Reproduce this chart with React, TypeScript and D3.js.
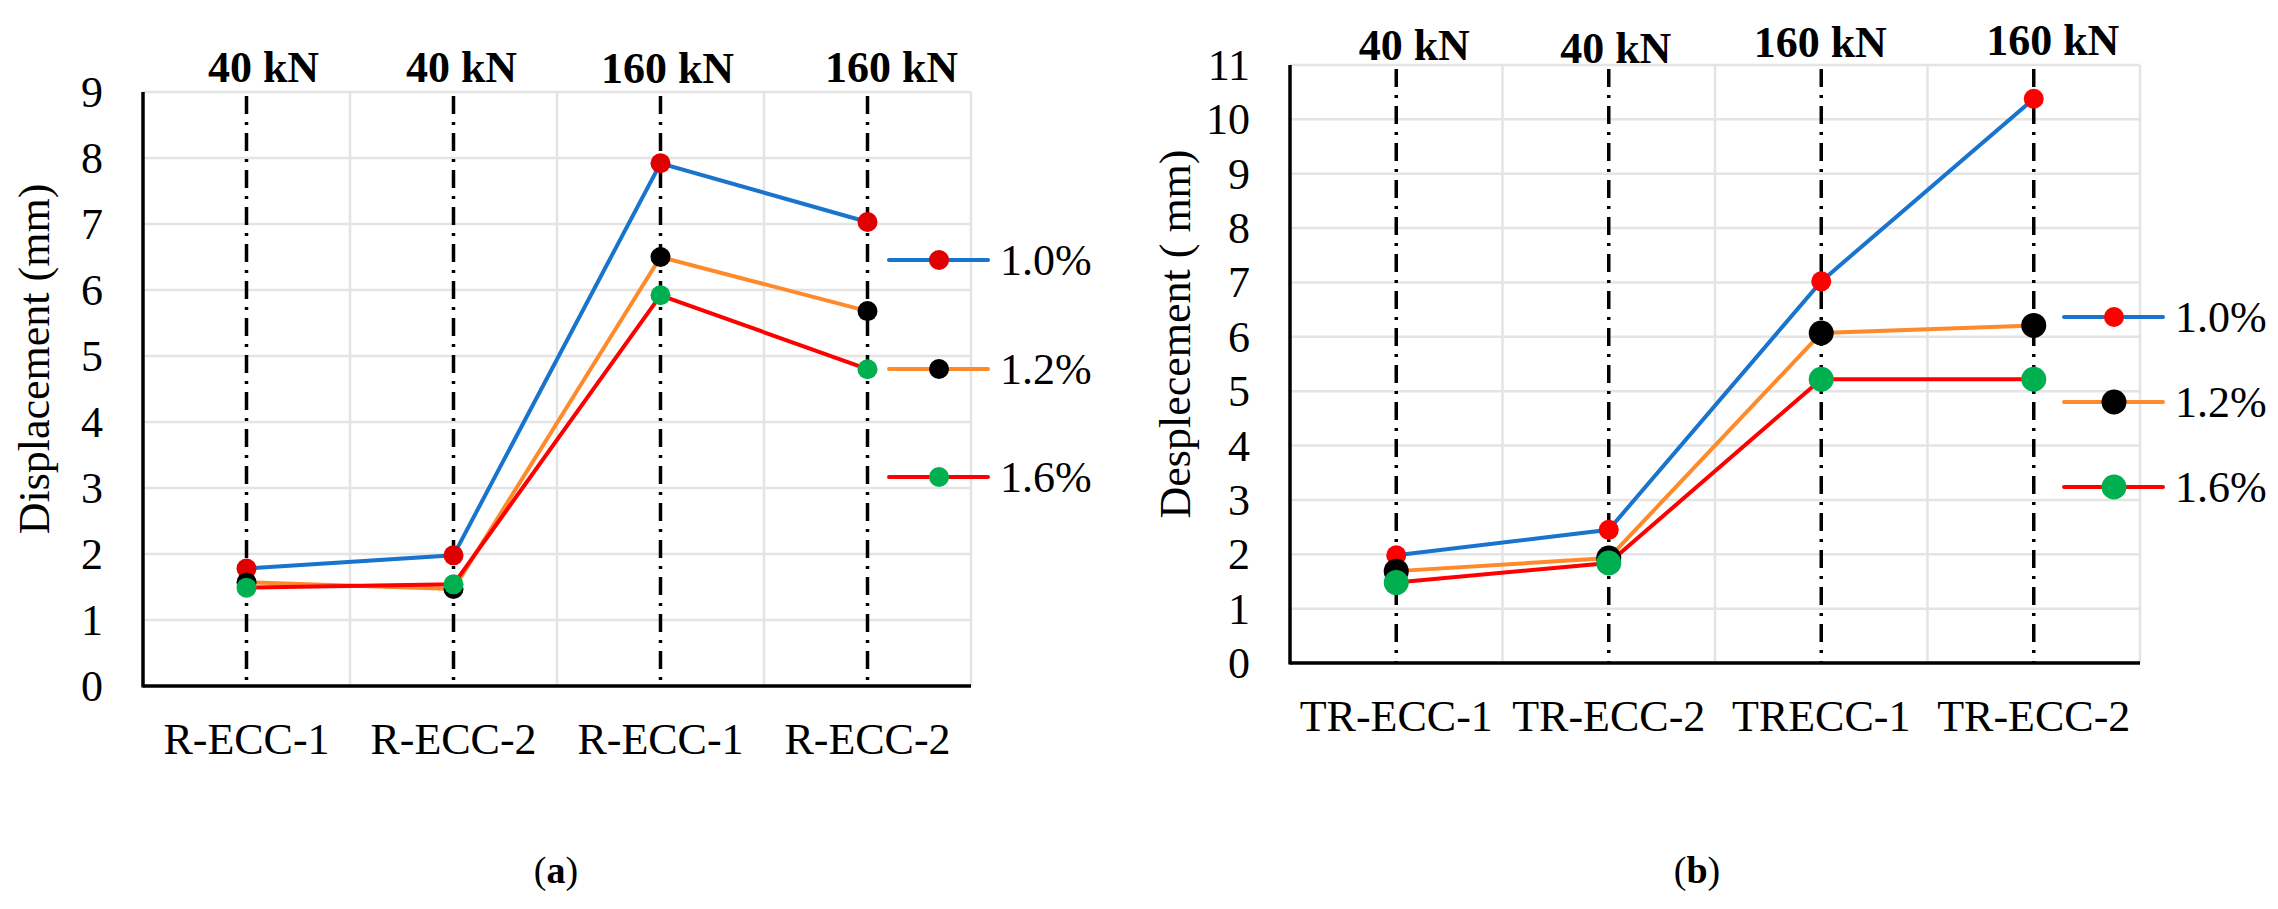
import * as d3 from 'd3'

// panel (a)
const catsA = ['R-ECC-1', 'R-ECC-2', 'R-ECC-1', 'R-ECC-2']
const loadsA = ['40 kN', '40 kN', '160 kN', '160 kN']
const a10 = [1.78, 1.98, 7.92, 7.03]
const a12 = [1.57, 1.47, 6.5, 5.68]
const a16 = [1.49, 1.54, 5.92, 4.8]
const ticksA = [0, 1, 2, 3, 4, 5, 6, 7, 8, 9]

// panel (b)
const catsB = ['TR-ECC-1', 'TR-ECC-2', 'TRECC-1', 'TR-ECC-2']
const loadsB = ['40 kN', '40 kN', '160 kN', '160 kN']
const b10 = [1.98, 2.45, 7.02, 10.38]
const b12 = [1.69, 1.93, 6.07, 6.21]
const b16 = [1.48, 1.84, 5.22, 5.22]
const ticksB = [0, 1, 2, 3, 4, 5, 6, 7, 8, 9, 10, 11]

const seriesNames = ['1.0%', '1.2%', '1.6%']

const FONT = '"Liberation Serif", "Times New Roman", serif'
const lineColors = ['#1874CD', '#FF8A2A', '#FF0000']

interface PanelProps {
  cats: string[]
  loads: string[]
  series: number[][]
  ticks: number[]
  yTitle: string
  caption: string
  left: number
  right: number
  top: number
  bottom: number
  loadY: number[]
  loadDx: number[]
  titleX: number
  legendX: number
  legendY: number[]
  markerColors: string[]
  markerR: number[]
  captionX: number
}

function Panel(p: PanelProps) {
  const x = d3.scaleBand<number>()
    .domain(p.cats.map((_, i) => i))
    .range([p.left, p.right])
    .padding(0)
  const y = d3.scaleLinear()
    .domain([0, d3.max(p.ticks) as number])
    .range([p.bottom, p.top])
  const cx = (i: number) => (x(i) as number) + x.bandwidth() / 2
  const line = d3.line<number>()
    .x((_, i) => cx(i))
    .y(d => y(d))

  return (
    <g>
      {/* grid */}
      {p.ticks.filter(t => t > 0).map(t => (
        <line key={'h' + t} x1={p.left} x2={p.right} y1={y(t)} y2={y(t)}
          stroke="#e4e4e4" strokeWidth={2.5} />
      ))}
      {p.cats.map((_, i) => (
        <line key={'v' + i} x1={(x(i) as number) + x.bandwidth()} x2={(x(i) as number) + x.bandwidth()}
          y1={p.top} y2={p.bottom} stroke="#e4e4e4" strokeWidth={2.5} />
      ))}
      {/* dash-dot load lines */}
      {p.cats.map((_, i) => (
        <line key={'d' + i} x1={cx(i)} x2={cx(i)} y1={p.top + 4} y2={p.bottom}
          stroke="#000" strokeWidth={3.5} strokeDasharray="18 8 3 8" />
      ))}
      {/* axes */}
      <line x1={p.left} x2={p.left} y1={p.top} y2={p.bottom + 1.5} stroke="#000" strokeWidth={3.5} />
      <line x1={p.left} x2={p.right} y1={p.bottom} y2={p.bottom} stroke="#000" strokeWidth={3.5} />
      {p.ticks.map(t => (
        <text key={'t' + t} x={p.left - 40} y={y(t) + 15} textAnchor="end"
          fontFamily={FONT} fontSize={44}>{t}</text>
      ))}
      {p.cats.map((c, i) => (
        <text key={'c' + i} x={cx(i)} y={p.bottom + 68} textAnchor="middle"
          fontFamily={FONT} fontSize={44}>{c}</text>
      ))}
      {p.loads.map((l, i) => (
        <text key={'l' + i} x={cx(i) + p.loadDx[i]} y={p.loadY[i]} textAnchor="middle"
          fontFamily={FONT} fontSize={44} fontWeight="bold">{l}</text>
      ))}
      <text transform={`translate(${p.titleX},${(p.top + p.bottom) / 2 - 30}) rotate(-90)`}
        textAnchor="middle" fontFamily={FONT} fontSize={44}>{p.yTitle}</text>
      {/* series */}
      {p.series.map((s, k) => (
        <path key={'s' + k} d={line(s) ?? ''} fill="none" stroke={lineColors[k]} strokeWidth={4} />
      ))}
      {p.series.map((s, k) => s.map((v, i) => (
        <circle key={'m' + k + '-' + i} cx={cx(i)} cy={y(v)} r={p.markerR[k]} fill={p.markerColors[k]} />
      )))}
      {/* legend */}
      {seriesNames.map((n, k) => (
        <g key={'lg' + k}>
          <line x1={p.legendX} x2={p.legendX + 99} y1={p.legendY[k]} y2={p.legendY[k]}
            stroke={lineColors[k]} strokeWidth={4} strokeLinecap="round" />
          <circle cx={p.legendX + 50} cy={p.legendY[k]} r={p.markerR[k]} fill={p.markerColors[k]} />
          <text x={p.legendX + 111} y={p.legendY[k] + 15} fontFamily={FONT} fontSize={44}>{n}</text>
        </g>
      ))}
      <text x={p.captionX} y={883} textAnchor="middle" fontFamily={FONT} fontSize={38}>
        (<tspan fontWeight="bold">{p.caption}</tspan>)
      </text>
    </g>
  )
}

export default function App() {
  return (
    <svg width={2278} height={909} style={{ position: 'absolute', left: 0, top: 0, background: '#fff' }}>
      <rect width={2278} height={909} fill="#fff" />
      <Panel
        cats={catsA} loads={loadsA} series={[a10, a12, a16]} ticks={ticksA}
        yTitle="Displacement (mm)" caption="a"
        left={143} right={971} top={92} bottom={686}
        loadY={[82, 82, 83, 82]} loadDx={[17, 8, 7, 24]}
        titleX={49} legendX={889} legendY={[260, 369, 477]}
        markerColors={['#E00000', '#000000', '#00B050']} markerR={[10, 10, 10]}
        captionX={556}
      />
      <Panel
        cats={catsB} loads={loadsB} series={[b10, b12, b16]} ticks={ticksB}
        yTitle="Desplecement ( mm)" caption="b"
        left={1290} right={2140} top={65} bottom={663}
        loadY={[60, 63, 57, 55]} loadDx={[18, 7, -1, 19]}
        titleX={1190} legendX={2064} legendY={[317, 402, 487]}
        markerColors={['#FF0000', '#000000', '#00B050']} markerR={[10, 12.5, 12.5]}
        captionX={1697}
      />
    </svg>
  )
}
